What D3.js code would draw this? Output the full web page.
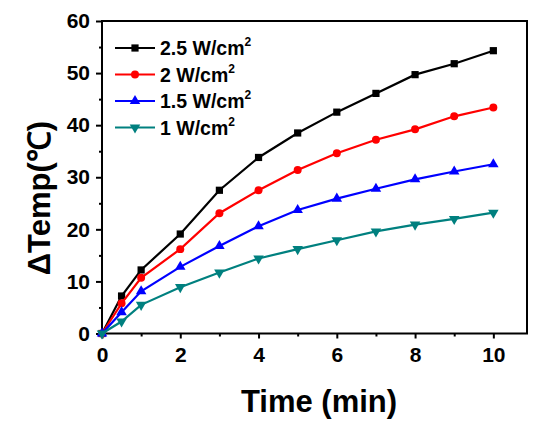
<!DOCTYPE html>
<html><head><meta charset="utf-8">
<script src="https://cdn.jsdelivr.net/npm/d3@7/dist/d3.min.js"></script>
<style>body{margin:0;background:#fff}svg{display:block}text{font-family:Arial,"Liberation Sans",sans-serif;font-weight:bold}</style>
</head><body><svg id="c" width="533" height="424"></svg>
<script>
const times = [0, 0.5, 1, 2, 3, 4, 5, 6, 7, 8, 9, 10];
const s25 = [0, 7.2, 12.2, 19.1, 27.5, 33.8, 38.5, 42.5, 46.1, 49.7, 51.8, 54.3];
const s20 = [0, 5.8, 10.7, 16.2, 23.1, 27.5, 31.4, 34.6, 37.2, 39.2, 41.7, 43.4];
const s15 = [0, 4.1, 8.1, 12.8, 16.8, 20.6, 23.7, 25.9, 27.8, 29.6, 31.1, 32.5];
const s10 = [0, 2.3, 5.5, 8.9, 11.7, 14.4, 16.2, 17.9, 19.6, 20.9, 22.0, 23.2];
const seriesNames = ["2.5 W/cm", "2 W/cm", "1.5 W/cm", "1 W/cm"];
const xTicks = [0, 2, 4, 6, 8, 10];
const yTicks = [0, 10, 20, 30, 40, 50, 60];

const series = [
  {name: seriesNames[0], values: s25, color: "#000000", sym: d3.symbolSquare, size: 52},
  {name: seriesNames[1], values: s20, color: "#ff0000", sym: d3.symbolCircle, size: 50},
  {name: seriesNames[2], values: s15, color: "#0000ff", sym: d3.symbolTriangle, size: 48},
  {name: seriesNames[3], values: s10, color: "#00807f", sym: d3.symbolTriangle, size: 48, flip: true}
];

const svg = d3.select("#c");
const L = 102, R = 527, T = 21, B = 333.5;
const x = d3.scaleLinear().domain([0, 10.86]).range([L, R]);
const y = d3.scaleLinear().domain([0, 60]).range([B, T]);

// frame
svg.append("rect").attr("x", L).attr("y", T).attr("width", R - L).attr("height", B - T)
  .attr("fill", "none").attr("stroke", "#000").attr("stroke-width", 2);

// axes
const xAxis = svg.append("g").attr("transform", `translate(0,${B})`)
  .call(d3.axisBottom(x).tickValues(xTicks).tickSize(5).tickPadding(9).tickFormat(d3.format("d")));
const xMinor = svg.append("g").attr("transform", `translate(0,${B})`)
  .call(d3.axisBottom(x).tickValues([1,3,5,7,9]).tickSize(3).tickFormat(""));
const yAxis = svg.append("g").attr("transform", `translate(${L},0)`)
  .call(d3.axisLeft(y).tickValues(yTicks).tickSize(6).tickPadding(6).tickFormat(d3.format("d")));
const yMinor = svg.append("g").attr("transform", `translate(${L},0)`)
  .call(d3.axisLeft(y).tickValues([5,15,25,35,45,55]).tickSize(3).tickFormat(""));
[xAxis, xMinor, yAxis, yMinor].forEach(g => {
  g.select(".domain").remove();
  g.attr("font-family", null);
  g.selectAll("line").attr("stroke", "#000").attr("stroke-width", 2);
  g.selectAll("text").attr("font-size", 21).attr("fill", "#000").attr("font-weight", "bold");
});

// lines
const line = d3.line().x((d, i) => x(times[i])).y(d => y(d));
series.forEach(s => {
  svg.append("path").datum(s.values).attr("d", line)
    .attr("fill", "none").attr("stroke", s.color).attr("stroke-width", 2.2);
  svg.append("g").selectAll("path").data(s.values).join("path")
    .attr("d", d3.symbol().type(s.sym).size(s.size))
    .attr("transform", (d, i) => `translate(${x(times[i])},${y(d)})${s.flip ? " rotate(180)" : ""}`)
    .attr("fill", s.color);
});

// legend
const lg = svg.append("g");
series.forEach((s, i) => {
  const yy = 48 + i * 26.5;
  lg.append("line").attr("x1", 115).attr("x2", 155).attr("y1", yy).attr("y2", yy)
    .attr("stroke", s.color).attr("stroke-width", 2.2);
  lg.append("path").attr("d", d3.symbol().type(s.sym).size(s.size))
    .attr("transform", `translate(135,${yy})${s.flip ? " rotate(180)" : ""}`).attr("fill", s.color);
  const t = lg.append("text").attr("x", 160).attr("y", yy + 7).attr("font-size", 19.5).attr("fill", "#000");
  t.append("tspan").text(s.name);
  t.append("tspan").text("2").attr("font-size", 12).attr("dy", -9);
});

// axis titles
svg.append("text").attr("x", 319).attr("y", 412).attr("text-anchor", "middle")
  .attr("font-size", 31).attr("fill", "#000").text("Time (min)");
svg.append("text").attr("transform", "translate(50,198) rotate(-90)").attr("text-anchor", "middle")
  .attr("font-size", 31).attr("fill", "#000").text("ΔTemp(℃)");
</script></body></html>
